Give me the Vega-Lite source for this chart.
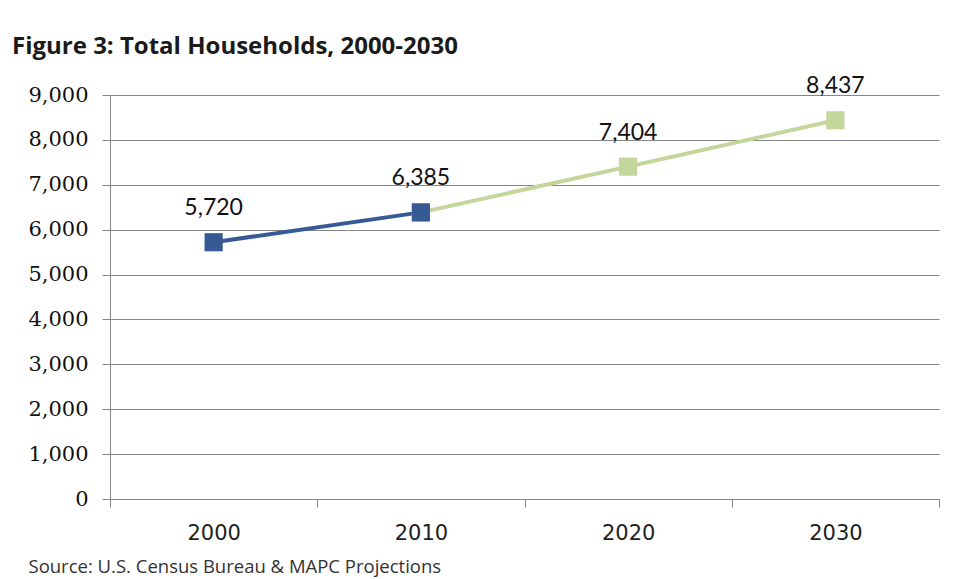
{
  "$schema": "https://vega.github.io/schema/vega-lite/v6.json",
  "width": 829,
  "height": 404,
  "autosize": {"type": "none"},
  "padding": {"left": 110, "top": 95, "right": 20, "bottom": 80},
  "background": "white",
  "title": {
    "text": "Figure 3: Total Households, 2000-2030",
    "anchor": "start",
    "frame": "group",
    "dx": -98,
    "dy": 0,
    "offset": 16,
    "font": "Open Sans",
    "fontSize": 24,
    "fontWeight": "bold",
    "color": "#1a1a1a"
  },
  "data": {
    "values": [
      {"year": "2000", "households": 5720, "series": "Census", "label": "5,720"},
      {"year": "2010", "households": 6385, "series": "Projection", "label": ""},
      {"year": "2010", "households": 6385, "series": "Census", "label": "6,385"},
      {"year": "2020", "households": 7404, "series": "Projection", "label": "7,404"},
      {"year": "2030", "households": 8437, "series": "Projection", "label": "8,437"}
    ]
  },
  "encoding": {
    "x": {
      "field": "year",
      "type": "ordinal",
      "sort": ["2000", "2010", "2020", "2030"],
      "scale": {"type": "band", "paddingInner": 0, "paddingOuter": 0},
      "axis": {
        "title": "Source: U.S. Census Bureau & MAPC Projections",
        "titleX": -82,
        "titleY": 67,
        "titleAlign": "left",
        "titleAnchor": "start",
        "titleBaseline": "middle",
        "titleFont": "Open Sans",
        "titleFontSize": 18.5,
        "titleFontWeight": "normal",
        "titleColor": "#333333",
        "labelAngle": 0,
        "tickBand": "extent",
        "tickSize": 8,
        "tickColor": "#868686",
        "domainColor": "#868686",
        "labelPadding": 15,
        "labelFont": "DejaVu Sans",
        "labelFontSize": 21,
        "labelColor": "#222222",
        "grid": false
      }
    },
    "y": {
      "field": "households",
      "type": "quantitative",
      "scale": {"domain": [0, 9000], "nice": false},
      "axis": {
        "title": null,
        "values": [0, 1000, 2000, 3000, 4000, 5000, 6000, 7000, 8000, 9000],
        "format": ",d",
        "tickSize": 8,
        "tickColor": "#868686",
        "domainColor": "#868686",
        "gridColor": "#868686",
        "gridOpacity": 1,
        "labelPadding": 14,
        "labelFont": "DejaVu Serif",
        "labelFontSize": 21,
        "labelColor": "#111111"
      }
    }
  },
  "layer": [
    {
      "mark": {"type": "line", "strokeWidth": 4},
      "encoding": {
        "color": {
          "field": "series",
          "type": "nominal",
          "scale": {"domain": ["Census", "Projection"], "range": ["#365A94", "#C3D69B"]},
          "legend": null
        },
        "order": {"field": "year"}
      }
    },
    {
      "mark": {"type": "point", "shape": "square", "filled": true, "size": 330, "opacity": 1},
      "encoding": {
        "color": {
          "field": "series",
          "type": "nominal",
          "scale": {"domain": ["Census", "Projection"], "range": ["#365A94", "#C3D69B"]},
          "legend": null
        }
      }
    },
    {
      "mark": {"type": "text", "dy": -34, "baseline": "middle", "font": "Lato", "fontSize": 23, "color": "#111111"},
      "encoding": {
        "text": {"field": "label"}
      }
    }
  ],
  "config": {
    "view": {"stroke": null}
  }
}
